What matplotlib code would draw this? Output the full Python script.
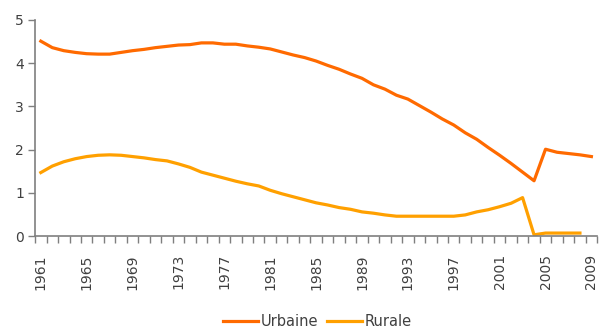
import matplotlib
matplotlib.use('Agg')
import matplotlib.pyplot as plt
import numpy as np

plt.rcParams.update({'font.family': 'DejaVu Sans', 'font.size': 10})

years = list(range(1961, 2010))

urbaine = [4.51, 4.36, 4.29, 4.25, 4.22, 4.21, 4.21, 4.25, 4.29, 4.32,
           4.36, 4.39, 4.42, 4.43, 4.47, 4.47, 4.44, 4.44, 4.40, 4.37,
           4.33, 4.26, 4.19, 4.13, 4.05, 3.95, 3.86, 3.75, 3.65, 3.50,
           3.40, 3.26, 3.17, 3.02, 2.87, 2.71, 2.57, 2.39, 2.24, 2.05,
           1.87, 1.68, 1.48, 1.28, 2.01, 1.94, 1.91, 1.88, 1.84]

rurale = [1.47, 1.62, 1.72, 1.79, 1.84, 1.87, 1.88, 1.87, 1.84, 1.81,
          1.77, 1.74, 1.67, 1.59, 1.48, 1.41, 1.34, 1.27, 1.21, 1.16,
          1.06, 0.98, 0.91, 0.84, 0.77, 0.72, 0.66, 0.62, 0.56, 0.53,
          0.49, 0.46, 0.46, 0.46, 0.46, 0.46, 0.46, 0.49, 0.56, 0.61,
          0.68, 0.76, 0.89, 0.03, 0.07, 0.07, 0.07, 0.07, None]

c_urb = '#ff6a00'
c_rur = '#ffa000'
axis_col = '#7f7f7f'
text_col = '#404040'

fig = plt.figure(figsize=(6.05, 3.33), dpi=100)
ax = fig.add_axes([0.058, 0.291, 0.929, 0.649])

x = np.arange(len(years))
rur = np.array([np.nan if v is None else v for v in rurale], dtype=float)
ax.plot(x, urbaine, color=c_urb, lw=2.3, solid_joinstyle='round', label='Urbaine')
ax.plot(x, rur, color=c_rur, lw=2.3, solid_joinstyle='round', label='Rurale')

ax.set_xlim(-0.5, len(years) - 0.5)
ax.set_ylim(0, 5)
ax.set_yticks(range(6))

# labels every 4 years at category centres, tick marks on category boundaries
lab_idx = list(range(0, len(years), 4))
ax.set_xticks(lab_idx)
ax.set_xticklabels([str(years[i]) for i in lab_idx], rotation=90)
ax.set_xticks(np.arange(-0.5, len(years)), minor=True)
ax.tick_params(axis='x', which='major', length=0, pad=13, labelcolor=text_col)
ax.tick_params(axis='x', which='minor', length=5, width=1, color=axis_col, direction='out')
ax.tick_params(axis='y', length=5, width=1, color=axis_col, pad=3, labelcolor=text_col)

for s in ['top', 'right']:
    ax.spines[s].set_visible(False)
for s in ['left', 'bottom']:
    ax.spines[s].set_color(axis_col)
    ax.spines[s].set_linewidth(1.2)

fig.legend(loc='lower center', bbox_to_anchor=(0.525, -0.028), ncol=2, frameon=False,
           handlelength=2.4, handletextpad=0.2, columnspacing=0.6, fontsize=10.5,
           labelcolor=text_col)

fig.savefig('out.png', dpi=100)
